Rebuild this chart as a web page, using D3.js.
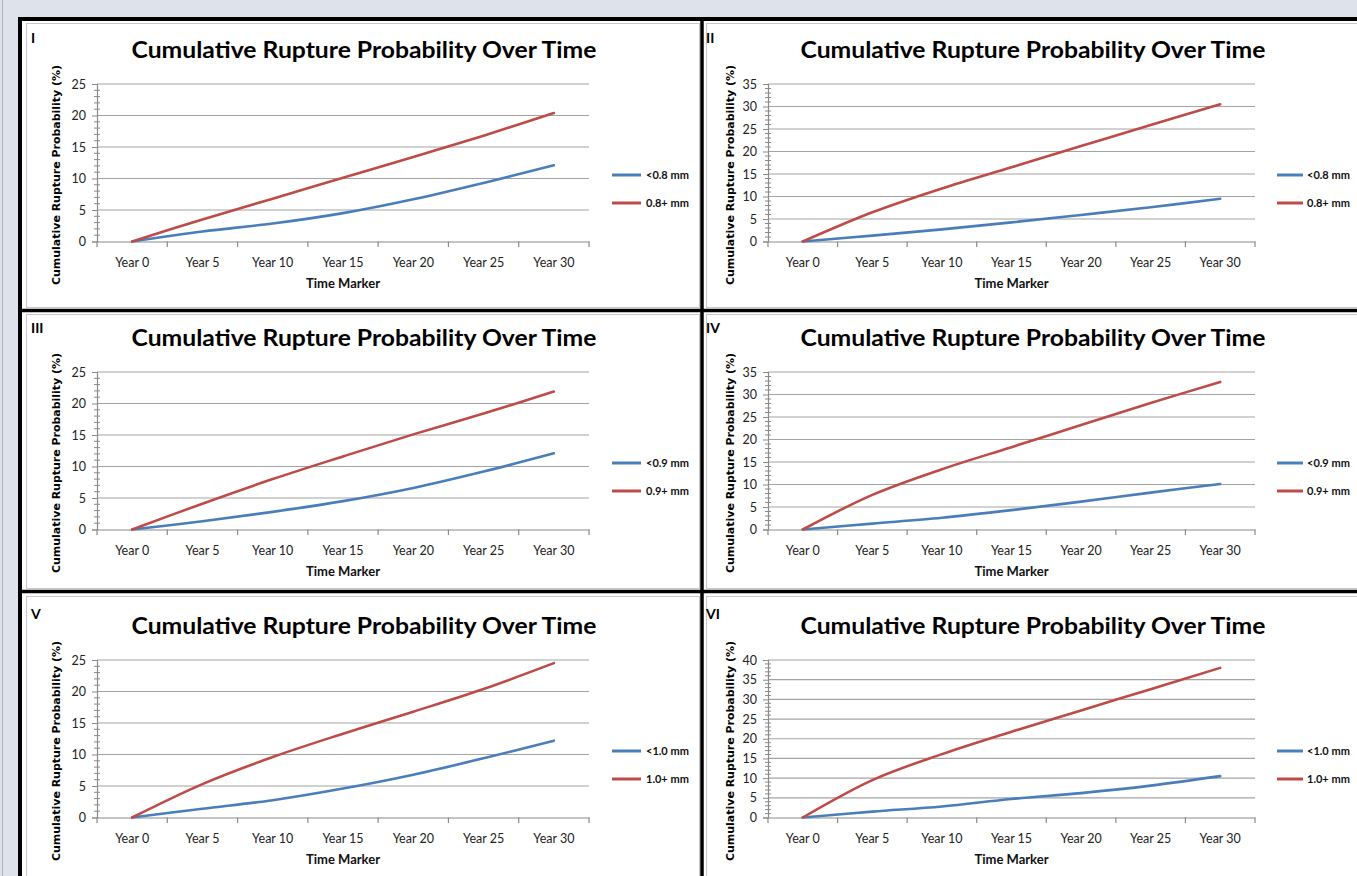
<!DOCTYPE html>
<html><head><meta charset="utf-8">
<script src="https://cdn.jsdelivr.net/npm/d3@7"></script>
<style>
html,body{margin:0;padding:0;background:#dee3eb;overflow:hidden;}
svg{display:block;}
</style></head>
<body>
<svg id="c" width="1357" height="876"></svg>
<script>
// ---- data ----
const categories = ["Year 0","Year 5","Year 10","Year 15","Year 20","Year 25","Year 30"];
const panelLabels = ["I","II","III","IV","V","VI"];
const chartTitle = "Cumulative Rupture Probability Over Time";
const yTitle = "Cumulative Rupture Probability (%)";
const xTitle = "Time Marker";
const smallNames = ["<0.8 mm","<0.8 mm","<0.9 mm","<0.9 mm","<1.0 mm","<1.0 mm"];
const largeNames = ["0.8+ mm","0.8+ mm","0.9+ mm","0.9+ mm","1.0+ mm","1.0+ mm"];
const yMaxes = [25, 35, 25, 35, 25, 40];
const smallI   = [0, 1.6, 2.85, 4.5, 6.7, 9.3, 12.1];
const largeI   = [0, 3.5, 6.8, 10.1, 13.4, 16.8, 20.4];
const smallII  = [0, 1.3, 2.7, 4.25, 5.9, 7.6, 9.5];
const largeII  = [0, 6.5, 11.8, 16.5, 21.2, 25.9, 30.5];
const smallIII = [0, 1.3, 2.8, 4.5, 6.6, 9.2, 12.1];
const largeIII = [0, 4.1, 8.0, 11.6, 15.1, 18.4, 21.9];
const smallIV  = [0, 1.3, 2.6, 4.3, 6.2, 8.2, 10.1];
const largeIV  = [0, 7.7, 13.4, 18.3, 23.2, 28.1, 32.8];
const smallV   = [0, 1.4, 2.75, 4.6, 6.8, 9.4, 12.2];
const largeV   = [0, 5.3, 9.6, 13.3, 16.8, 20.4, 24.5];
const smallVI  = [0, 1.5, 2.8, 4.7, 6.2, 8.1, 10.5];
const largeVI  = [0, 9.5, 16.1, 21.8, 27.2, 32.6, 38.0];
const smallSeries = [smallI, smallII, smallIII, smallIV, smallV, smallVI];
const largeSeries = [largeI, largeII, largeIII, largeIV, largeV, largeVI];

// ---- styles / layout ----
const BLUE = "#4a7ebb", RED = "#be4b48";
const svg = d3.select("#c");
const font = "Lato, 'Open Sans', sans-serif";

svg.append("rect").attr("x",20).attr("y",19).attr("width",1340).attr("height",860).attr("fill","#fff");
svg.append("line").attr("x1",2.5).attr("x2",2.5).attr("y1",0).attr("y2",876).attr("stroke","#aab3c2").attr("stroke-width",1);

const cols = [
  {x0:97, x1:589, ylab:86, ytx:56, lg0:612, lg1:641, lgt:646, tcx:364, num:31, inX:26, inW:673},
  {x0:768, x1:1255, ylab:757, ytx:730, lg0:1277, lg1:1303, lgt:1307, tcx:1033, num:706, inX:706, inW:660}
];
const rowOff = [0, 288, 576];
const numBase = [43, 333, 619];
const inner = [[23,284],[314,274],[596,290]];

for (let p = 0; p < 6; p++) {
  const c = cols[p % 2], r = Math.floor(p / 2), off = rowOff[r];
  const g = svg.append("g");
  g.append("rect").attr("x",c.inX+0.5).attr("y",inner[r][0]+0.5).attr("width",c.inW).attr("height",inner[r][1])
    .attr("fill","none").attr("stroke","#c8c8c8").attr("stroke-width",1);

  const x = d3.scaleBand().domain(categories).range([c.x0, c.x1]);
  const y = d3.scaleLinear().domain([0, yMaxes[p]]).range([241.5 + off, 84 + off]);

  const majors = d3.range(0, yMaxes[p] + 0.001, 5);
  g.selectAll(".grid").data(majors.filter(v => v > 0)).join("line")
    .attr("x1", c.x0).attr("x2", c.x1).attr("y1", d => y(d)).attr("y2", d => y(d))
    .attr("stroke", "#a3a3a3").attr("stroke-width", 1.2);

  const yAxis = d3.axisLeft(y).tickValues(majors).tickSize(5).tickPadding(6).tickFormat(d3.format("d"));
  const ya = g.append("g").attr("transform", `translate(${c.x0},0)`).call(yAxis);
  ya.select(".domain").attr("stroke", "#8a8a8a").attr("stroke-width", 1.2);
  ya.selectAll(".tick line").attr("stroke", "#8a8a8a");
  ya.selectAll("text").attr("font-family", font).attr("font-size", 12.5).attr("fill", "#222");
  const minors = d3.range(1, yMaxes[p], 1).filter(v => v % 5 !== 0);
  g.selectAll(".minor").data(minors).join("line")
    .attr("x1", c.x0 - 3).attr("x2", c.x0 + 3).attr("y1", d => y(d)).attr("y2", d => y(d))
    .attr("stroke", "#8a8a8a").attr("stroke-width", 1);

  const xa = g.append("g").attr("transform", `translate(0,${241.5 + off})`)
    .call(d3.axisBottom(x).tickSize(0).tickPadding(17));
  xa.select(".domain").attr("stroke", "#8a8a8a").attr("stroke-width", 1.2);
  xa.selectAll("text").attr("font-family", font).attr("font-size", 12.5).attr("fill", "#222");
  const bounds = categories.map(d => x(d)).concat([c.x1]);
  g.selectAll(".xt").data(bounds).join("line")
    .attr("x1", d => d).attr("x2", d => d).attr("y1", 241.5 + off).attr("y2", 247 + off)
    .attr("stroke", "#8a8a8a").attr("stroke-width", 1.2);

  const line = d3.line().x((d, i) => x(categories[i]) + x.bandwidth() / 2).y(d => y(d)).curve(d3.curveCatmullRom.alpha(0.5));
  g.append("path").datum(smallSeries[p]).attr("d", line).attr("fill", "none")
    .attr("stroke", BLUE).attr("stroke-width", 2.6).attr("stroke-linecap", "round");
  g.append("path").datum(largeSeries[p]).attr("d", line).attr("fill", "none")
    .attr("stroke", RED).attr("stroke-width", 2.6).attr("stroke-linecap", "round");

  const lg = [[smallNames[p], BLUE, 175], [largeNames[p], RED, 203]];
  lg.forEach(([name, col, ly]) => {
    g.append("line").attr("x1", c.lg0).attr("x2", c.lg1).attr("y1", ly + off).attr("y2", ly + off)
      .attr("stroke", col).attr("stroke-width", 3);
    g.append("text").attr("x", c.lgt).attr("y", ly + off + 4).text(name)
      .attr("font-family", font).attr("font-size", 11).attr("font-weight", "bold").attr("fill", "#111");
  });

  g.append("text").attr("x", c.tcx).attr("y", 58 + off).attr("text-anchor", "middle").text(chartTitle)
    .attr("font-family", font).attr("font-size", 23).attr("font-weight", "bold").attr("fill", "#000")
    .attr("textLength", 465).attr("lengthAdjust", "spacingAndGlyphs");
  g.append("text").attr("x", c.num).attr("y", numBase[r]).text(panelLabels[p])
    .attr("font-family", font).attr("font-size", 14).attr("font-weight", "bold").attr("fill", "#000");
  g.append("text").attr("transform", `translate(${c.ytx},${175 + off}) rotate(-90)`)
    .attr("text-anchor", "middle").attr("dy", "0.35em").text(yTitle)
    .attr("font-family", "'DejaVu Sans', sans-serif").attr("font-size", 10).attr("font-weight", "bold")
    .attr("fill", "#000").attr("textLength", 220).attr("lengthAdjust", "spacingAndGlyphs");
  g.append("text").attr("x", (c.x0 + c.x1) / 2).attr("y", 288 + off).attr("text-anchor", "middle").text(xTitle)
    .attr("font-family", font).attr("font-size", 13).attr("font-weight", "bold").attr("fill", "#111");
}

const frame = svg.append("g").attr("stroke", "#000");
frame.append("line").attr("x1", 18).attr("x2", 1357).attr("y1", 19).attr("y2", 19).attr("stroke-width", 4);
frame.append("line").attr("x1", 20).attr("x2", 20).attr("y1", 17).attr("y2", 876).attr("stroke-width", 4);
frame.append("line").attr("x1", 702).attr("x2", 702).attr("y1", 17).attr("y2", 876).attr("stroke-width", 3.5);
frame.append("line").attr("x1", 18).attr("x2", 1357).attr("y1", 310.5).attr("y2", 310.5).attr("stroke-width", 3.5);
frame.append("line").attr("x1", 18).attr("x2", 1357).attr("y1", 591.5).attr("y2", 591.5).attr("stroke-width", 3.5);
</script>
</body></html>
